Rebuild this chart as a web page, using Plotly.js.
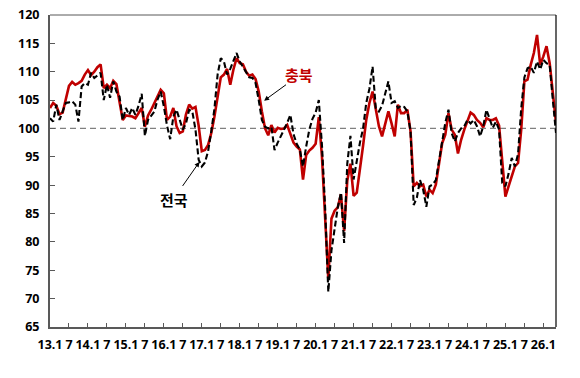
<!DOCTYPE html>
<html>
<head>
<meta charset="utf-8">
<script src="https://cdn.plot.ly/plotly-3.0.1.min.js"></script>
<style>
  html, body { margin: 0; padding: 0; background: #ffffff; }
  #chart { width: 580px; height: 378px; }
</style>
</head>
<body>
<div id="chart"></div>
<script>
// Monthly index, 2013.1 - 2026.5 (one value per month)
const tickLabels = ["13.1","7","14.1","7","15.1","7","16.1","7","17.1","7","18.1","7","19.1","7",
                    "20.1","7","21.1","7","22.1","7","23.1","7","24.1","7","25.1","7","26.1"];

// 충북 (red solid)
const chungbuk = [
  103.6,104.5,104.0,102.5,102.8,105.0,107.5,108.2,107.7,108.0,
  108.4,109.5,110.3,109.4,110.0,110.8,111.3,107.1,107.7,107.1,
  108.4,107.8,104.5,101.5,102.3,102.2,102.1,101.8,102.7,103.6,
  100.3,102.3,103.3,104.5,105.9,106.8,106.2,101.5,102.1,103.6,
  100.4,99.2,99.5,102.5,104.2,103.5,103.8,100.5,96.0,96.2,
  97.1,99.2,102.1,105.6,109.0,109.5,110.5,107.7,110.4,112.4,
  111.5,111.3,110.0,109.3,109.5,108.7,106.5,103.0,100.0,98.8,
  100.6,99.3,100.1,99.9,100.0,100.6,99.0,97.5,96.8,96.3,
  91.0,95.3,96.1,96.6,97.3,102.0,95.0,84.0,73.5,84.1,
  85.5,86.1,88.4,81.9,90.8,93.8,88.1,88.7,92.6,97.0,
  101.5,104.5,106.5,103.6,100.4,98.6,100.9,103.0,100.9,98.6,
  104.2,102.7,102.7,103.3,99.5,89.8,90.4,89.8,90.1,88.0,
  89.2,88.6,90.1,93.9,97.4,98.9,102.7,99.8,98.9,95.6,
  98.0,99.8,101.5,102.8,102.4,101.5,101.0,100.2,101.8,101.5,
  101.5,101.8,100.5,94.0,88.0,89.8,91.5,93.3,93.9,99.8,
  108.3,108.6,111.2,113.3,116.5,111.2,112.7,114.5,111.5,105.6,
  101.0
];

// 전국 (black dashed)
const national = [
  101.8,101.2,104.2,101.5,103.0,104.5,104.6,104.8,104.2,101.2,
  107.4,108.0,107.7,109.8,108.9,109.3,109.8,105.0,107.7,105.4,
  108.3,106.5,105.6,101.5,103.6,102.4,103.6,102.4,104.0,106.1,
  98.7,101.5,102.2,103.0,105.1,106.5,103.9,100.5,98.1,102.1,
  103.3,101.5,99.8,100.9,103.3,103.0,99.8,94.5,93.3,94.0,
  96.0,99.5,103.5,109.5,112.4,111.8,109.5,110.5,112.0,113.3,
  111.8,110.9,110.1,109.0,108.9,108.0,105.0,101.5,100.3,100.0,
  100.3,96.2,97.5,98.8,99.8,101.0,102.4,99.0,97.3,96.3,
  93.3,96.8,99.8,101.7,102.8,105.0,97.0,86.0,71.2,78.5,
  82.0,86.1,88.7,79.8,93.8,98.7,91.0,94.5,97.5,100.0,
  104.5,107.0,110.9,103.6,103.0,104.0,106.0,108.3,104.5,104.8,
  103.6,104.0,103.8,103.0,99.5,86.5,87.8,90.9,89.2,86.2,
  89.8,90.1,90.9,94.5,98.0,101.0,103.3,99.2,97.7,99.2,
  100.0,100.4,101.5,100.9,101.5,100.4,98.6,100.4,103.3,101.5,
  100.1,101.2,99.8,90.4,89.8,92.0,94.8,93.3,95.5,103.5,
  109.0,110.6,110.9,109.8,111.8,110.4,112.1,111.5,111.2,105.0,
  99.2
];

const yTicks = [65,70,75,80,85,90,95,100,105,110,115,120];

const idx = chungbuk.map((_, k) => k);
const tickPos = tickLabels.map((_, k) => k * 6);

const traces = [
  {
    x: idx, y: chungbuk, type: 'scatter', mode: 'lines', name: '충북',
    line: { color: '#C00000', width: 2.6 }, hoverinfo: 'skip'
  },
  {
    x: idx, y: national, type: 'scatter', mode: 'lines', name: '전국',
    line: { color: '#000000', width: 2.1, dash: '6px,3px' }, hoverinfo: 'skip'
  }
];

const tickFont = { family: 'Noto Sans, Liberation Sans, sans-serif', size: 12.5, color: '#000000', weight: 'bold' };

const layout = {
  width: 580, height: 378,
  margin: { l: 50, r: 24, t: 15, b: 51, pad: 0 },
  paper_bgcolor: '#ffffff', plot_bgcolor: '#ffffff',
  showlegend: false,
  xaxis: {
    range: [0, idx.length - 1], showgrid: false, zeroline: false,
    tickmode: 'array', tickvals: tickPos, ticktext: tickLabels,
    ticks: 'inside', ticklen: 4, tickwidth: 1, tickcolor: '#595959',
    showline: true, linecolor: '#595959', linewidth: 2,
    tickfont: tickFont, tickangle: 0, ticklabelstandoff: 5
  },
  yaxis: {
    range: [65, 120], showgrid: false, zeroline: false,
    tickmode: 'array', tickvals: yTicks,
    ticks: 'inside', ticklen: 5, tickwidth: 1, tickcolor: '#595959',
    showline: true, linecolor: '#595959', linewidth: 2,
    tickfont: tickFont, ticklabelstandoff: 6
  },
  shapes: [
    { type: 'line', xref: 'paper', yref: 'y', x0: 0, x1: 1, y0: 100, y1: 100,
      line: { color: '#808080', width: 1.3, dash: '6px,4px' }, layer: 'below' },
    { type: 'line', xref: 'paper', yref: 'paper', x0: 0, x1: 1, y0: 1, y1: 1,
      line: { color: '#595959', width: 1 } },
    { type: 'line', xref: 'paper', yref: 'paper', x0: 1, x1: 1, y0: 0, y1: 1,
      line: { color: '#000000', width: 1.2 } }
  ],
  annotations: [
    { x: 78.8, y: 109.5, xref: 'x', yref: 'y', text: '<b>충북</b>', showarrow: false,
      font: { family: 'Noto Sans CJK KR', size: 15, color: '#C00000' } },
    { x: 39.2, y: 87.5, xref: 'x', yref: 'y', text: '<b>전국</b>', showarrow: false,
      font: { family: 'Noto Sans CJK KR', size: 15, color: '#000000' } },
    { x: 67.7, y: 104.9, ax: 75.1, ay: 107.9, xref: 'x', yref: 'y', axref: 'x', ayref: 'y',
      text: '', showarrow: true, arrowhead: 2, arrowsize: 1, arrowwidth: 1, arrowcolor: '#000000' },
    { x: 47.25, y: 94.1, ax: 41.6, ay: 89.6, xref: 'x', yref: 'y', axref: 'x', ayref: 'y',
      text: '', showarrow: true, arrowhead: 2, arrowsize: 1, arrowwidth: 1, arrowcolor: '#000000' }
  ]
};

Plotly.newPlot('chart', traces, layout, { staticPlot: true, displayModeBar: false });
</script>
</body>
</html>
